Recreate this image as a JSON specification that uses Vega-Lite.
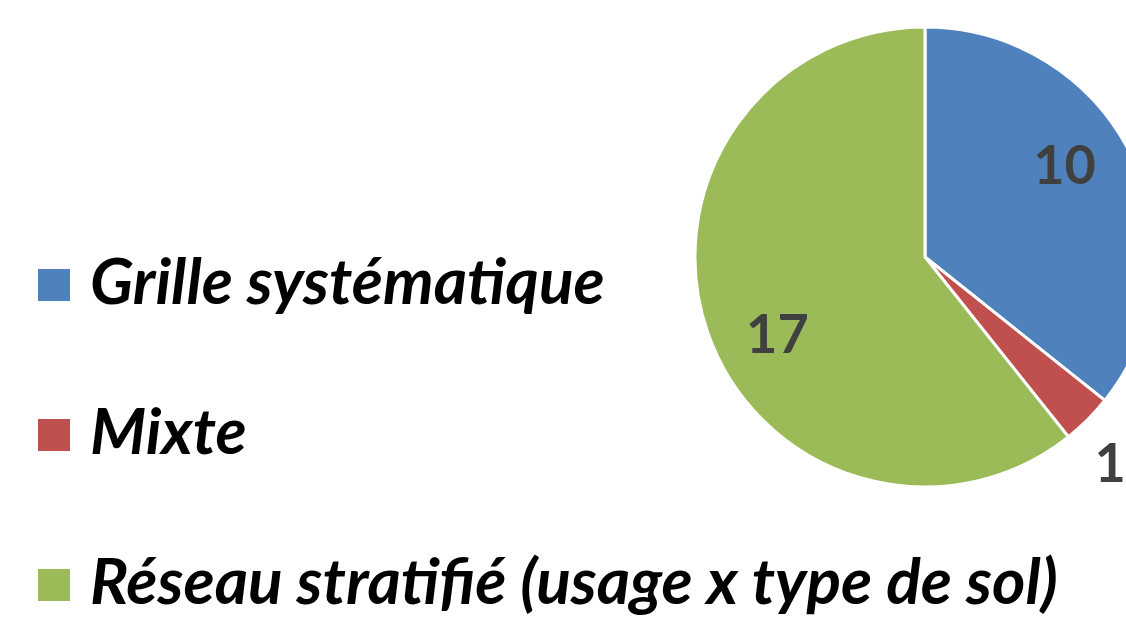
{
  "$schema": "https://vega.github.io/schema/vega-lite/v6.json",
  "autosize": {"type": "none"},
  "padding": {"left": 0, "top": 0, "right": 0, "bottom": 120},
  "width": 1850,
  "height": 514,
  "background": "white",
  "config": {"view": {"stroke": null}},
  "data": {"values": [
    {"categorie": "Grille systématique", "valeur": 10},
    {"categorie": "Mixte", "valeur": 1},
    {"categorie": "Réseau stratifié (usage x type de sol)", "valeur": 17}
  ]},
  "encoding": {
    "theta": {"field": "valeur", "type": "quantitative", "stack": true},
    "order": {"field": "categorie", "type": "ordinal", "sort": "ascending"}
  },
  "layer": [
    {
      "mark": {"type": "arc", "outerRadius": 230, "stroke": "white", "strokeWidth": 3},
      "encoding": {
        "color": {
          "field": "categorie",
          "type": "nominal",
          "scale": {
            "domain": ["Grille systématique", "Mixte", "Réseau stratifié (usage x type de sol)"],
            "range": ["#4F81BD", "#C0504D", "#9BBB59"]
          },
          "legend": {
            "title": null,
            "orient": "none",
            "legendX": 22,
            "legendY": 253,
            "symbolType": "square",
            "symbolSize": 1024,
            "symbolStrokeWidth": 0,
            "labelFont": "Lato",
            "labelFontSize": 64,
            "labelFontWeight": "bold",
            "labelFontStyle": "italic",
            "labelColor": "#000000",
            "labelLimit": 2000,
            "labelOffset": 4,
            "rowPadding": 86
          }
        }
      }
    },
    {
      "mark": {"type": "text", "radius": 166, "dx": -10, "dy": -17, "font": "Lato", "fontSize": 54, "fontWeight": "bold", "align": "center", "baseline": "middle"},
      "encoding": {
        "text": {"condition": {"test": "datum.valeur == 10", "field": "valeur", "type": "quantitative"}, "value": ""},
        "color": {"value": "#404040"}
      }
    },
    {
      "mark": {"type": "text", "radius": 168, "dx": 11, "dy": 25, "font": "Lato", "fontSize": 54, "fontWeight": "bold", "align": "center", "baseline": "middle"},
      "encoding": {
        "text": {"condition": {"test": "datum.valeur == 17", "field": "valeur", "type": "quantitative"}, "value": ""},
        "color": {"value": "#404040"}
      }
    },
    {
      "mark": {"type": "text", "radius": 283, "dx": -15, "dy": 9, "font": "Lato", "fontSize": 54, "fontWeight": "bold", "align": "center", "baseline": "middle"},
      "encoding": {
        "text": {"condition": {"test": "datum.valeur == 1", "field": "valeur", "type": "quantitative"}, "value": ""},
        "color": {"value": "#404040"}
      }
    }
  ]
}
